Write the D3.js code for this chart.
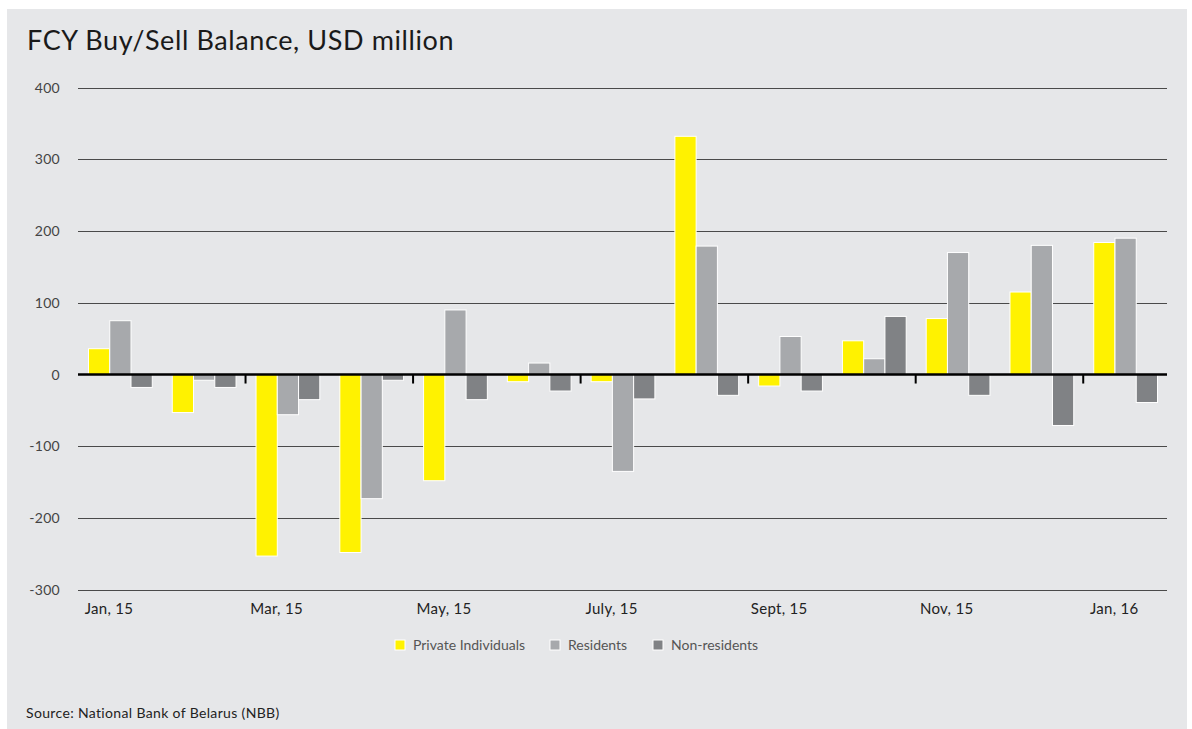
<!DOCTYPE html>
<html>
<head>
<meta charset="utf-8">
<script src="https://cdn.jsdelivr.net/npm/d3@7"></script>
<style>
  html, body { margin: 0; padding: 0; background: #ffffff; }
  svg { display: block; }
  text { font-family: Lato, "Open Sans", sans-serif; }
</style>
</head>
<body>
<svg id="chart" width="1192" height="729"></svg>
<script>
const months = ["Jan, 15","Feb, 15","Mar, 15","Apr, 15","May, 15","Jun, 15","July, 15","Aug, 15","Sept, 15","Oct, 15","Nov, 15","Dec, 15","Jan, 16"];
const seriesNames = ["Private Individuals","Residents","Non-residents"];
const privateIndividuals = [36, -53, -253, -248, -148, -10, -10, 332, -16, 47, 78, 115, 184];
const residents          = [75, -8, -56, -173, 90, 16, -135, 179, 53, 22, 170, 180, 190];
const nonResidents       = [-18, -18, -35, -8, -35, -23, -34, -29, -23, 81, -29, -71, -39];
const yTicks = [400, 300, 200, 100, 0, -100, -200, -300];
const xTickLabels = ["Jan, 15","Mar, 15","May, 15","July, 15","Sept, 15","Nov, 15","Jan, 16"];
const colors = ["#fff200", "#a7a9ac", "#808285"];

const seriesValues = [privateIndividuals, residents, nonResidents];
const data = months.map((m, i) => ({ month: m, values: seriesValues.map(s => s[i]) }));

const svg = d3.select("#chart");
svg.append("rect").attr("x", 7).attr("y", 9).attr("width", 1180).attr("height", 720).attr("fill", "#e6e7e9");

const x = d3.scaleBand().domain(months).range([78, 1167]).padding(0);
const xs = d3.scaleBand().domain(seriesNames).range([10.5, x.bandwidth() - 9.5]).padding(0);
const y = d3.scaleLinear().domain([-300, 400]).range([589.8, 87.5]);

// title
svg.append("text").attr("x", 27).attr("y", 50).attr("font-size", 27).attr("letter-spacing", 0.6)
  .attr("fill", "#1a1a1a").text("FCY Buy/Sell Balance, USD million");

// gridlines
svg.append("g").selectAll("line").data(yTicks.filter(d => d !== 0)).join("line")
  .attr("x1", 78).attr("x2", 1167)
  .attr("y1", d => Math.round(y(d)) + 0.5).attr("y2", d => Math.round(y(d)) + 0.5)
  .attr("stroke", "#4a4a4a").attr("stroke-width", 1.2);

// y labels
svg.append("g").selectAll("text").data(yTicks).join("text")
  .attr("x", 60).attr("y", d => y(d) + 5).attr("text-anchor", "end")
  .attr("font-size", 14).attr("letter-spacing", 0.3).attr("fill", "#444").text(d => d);

// bars
const groups = svg.append("g").selectAll("g").data(data).join("g")
  .attr("transform", d => `translate(${x(d.month)},0)`);
groups.selectAll("rect").data(d => d.values.map((v, k) => ({ v, k }))).join("rect")
  .attr("x", d => xs(seriesNames[d.k]))
  .attr("width", xs.bandwidth())
  .attr("y", d => Math.min(y(d.v), y(0)))
  .attr("height", d => Math.abs(y(d.v) - y(0)))
  .attr("fill", d => colors[d.k])
  .attr("stroke", "#ffffff").attr("stroke-width", 1);

// zero line
svg.append("line").attr("x1", 78).attr("x2", 1167).attr("y1", y(0)).attr("y2", y(0))
  .attr("stroke", "#000").attr("stroke-width", 2.5);

// ticks at every second band boundary
const tickMonths = months.filter((m, i) => i % 2 === 0 && i > 0);
svg.append("g").selectAll("line").data(tickMonths).join("line")
  .attr("x1", d => x(d)).attr("x2", d => x(d))
  .attr("y1", y(0)).attr("y2", y(0) + 9)
  .attr("stroke", "#000").attr("stroke-width", 2);

// x labels
svg.append("g").selectAll("text").data(xTickLabels).join("text")
  .attr("x", d => x(d) + 31).attr("y", 614).attr("text-anchor", "middle")
  .attr("font-size", 15).attr("letter-spacing", 0.3).attr("fill", "#222").text(d => d);

// legend
const legendX = [395, 550, 653];
const legend = svg.append("g").selectAll("g").data(seriesNames).join("g")
  .attr("transform", (d, i) => `translate(${legendX[i]},640)`);
legend.append("rect").attr("width", 10).attr("height", 10)
  .attr("fill", (d, i) => colors[i]).attr("stroke", "#fff").attr("stroke-width", 1);
legend.append("text").attr("x", 18).attr("y", 10).attr("font-size", 14).attr("fill", "#555").text(d => d);

// source
svg.append("text").attr("x", 26).attr("y", 718).attr("font-size", 14).attr("letter-spacing", 0.35)
  .attr("fill", "#222").text("Source: National Bank of Belarus (NBB)");
</script>
</body>
</html>
